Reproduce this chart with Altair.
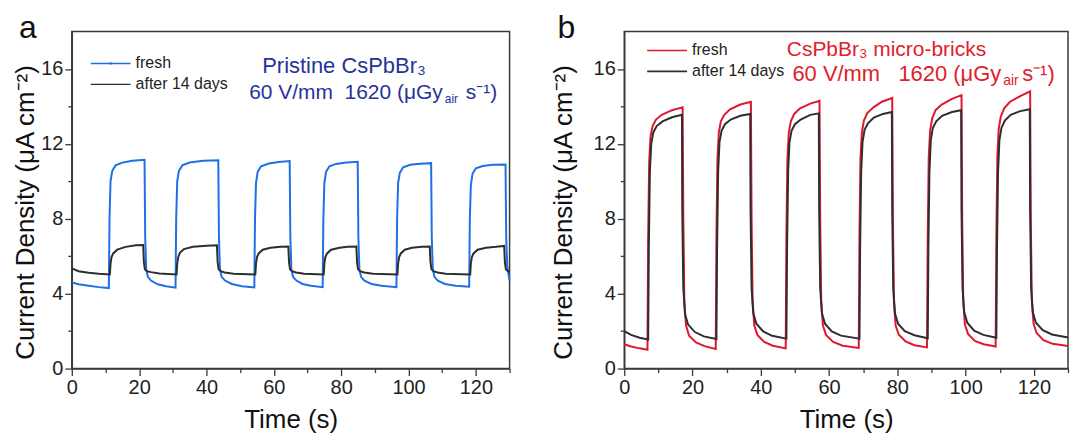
import altair as alt
import pandas as pd

# ---------------- data ----------------
A_FRESH_T = [0, 2, 5, 8, 11.0,
             11.2, 11.5, 12.0, 13, 15, 18, 21.6,
             21.8, 22.1, 22.6, 23.5, 25.5, 28, 30.8,
             31.0, 31.3, 31.8, 32.8, 35, 39, 43.5,
             43.7, 44.0, 44.5, 45.5, 47.5, 50.5, 54.2,
             54.4, 54.7, 55.2, 56.2, 58.5, 61.5, 64.7,
             64.9, 65.2, 65.7, 66.7, 68.5, 71, 74.5,
             74.7, 75.0, 75.5, 76.5, 78.5, 81.5, 84.9,
             85.1, 85.4, 85.9, 86.9, 89, 92, 96.4,
             96.6, 96.9, 97.4, 98.4, 100.5, 103.5, 106.7,
             106.9, 107.2, 107.7, 108.7, 110.8, 114, 118.0,
             118.2, 118.5, 119.0, 120.0, 122, 125, 128.8,
             129.0, 129.3, 129.7, 130]
A_FRESH_J = [4.6, 4.5, 4.42, 4.35, 4.3,
             8.0, 10.0, 10.55, 10.85, 11.0, 11.1, 11.15,
             7.0, 5.3, 4.9, 4.7, 4.5, 4.4, 4.32,
             8.0, 10.0, 10.55, 10.85, 11.0, 11.1, 11.13,
             7.0, 5.3, 4.9, 4.7, 4.52, 4.4, 4.33,
             8.0, 9.9, 10.5, 10.8, 10.95, 11.03, 11.08,
             7.0, 5.3, 4.9, 4.7, 4.52, 4.42, 4.35,
             8.0, 9.9, 10.5, 10.8, 10.93, 11.0, 11.04,
             7.0, 5.3, 4.9, 4.7, 4.52, 4.42, 4.35,
             8.0, 9.9, 10.45, 10.75, 10.88, 10.94, 10.97,
             7.0, 5.3, 4.9, 4.7, 4.52, 4.42, 4.37,
             8.0, 9.8, 10.4, 10.7, 10.82, 10.88, 10.9,
             7.0, 5.5, 5.0, 4.7]

A_AGED_T = [0, 2, 5, 8, 11.3,
            11.5, 11.8, 12.3, 13.5, 16, 19, 21.2,
            21.4, 21.7, 22.3, 23.5, 26, 31.1,
            31.3, 31.6, 32.1, 33.3, 36, 40, 43.1,
            43.3, 43.6, 44.2, 45.4, 48, 54.5,
            54.7, 55.0, 55.5, 56.7, 59, 62, 64.3,
            64.5, 64.8, 65.4, 66.6, 69, 74.8,
            75.0, 75.3, 75.8, 77, 79.5, 82, 84.5,
            84.7, 85.0, 85.6, 86.8, 89.5, 96.7,
            96.9, 97.2, 97.7, 98.9, 101, 104, 106.3,
            106.5, 106.8, 107.4, 108.6, 111, 118.3,
            118.5, 118.8, 119.3, 120.5, 123, 126, 128.4,
            128.6, 128.9, 129.5, 130]
A_AGED_J = [5.35, 5.2, 5.12, 5.07, 5.03,
            5.6, 5.95, 6.15, 6.35, 6.5, 6.58, 6.6,
            5.7, 5.3, 5.2, 5.15, 5.08, 5.03,
            5.6, 5.95, 6.18, 6.38, 6.5, 6.56, 6.58,
            5.7, 5.3, 5.2, 5.13, 5.07, 5.02,
            5.6, 5.95, 6.15, 6.35, 6.45, 6.5, 6.52,
            5.7, 5.3, 5.2, 5.13, 5.07, 5.02,
            5.6, 5.95, 6.15, 6.35, 6.45, 6.5, 6.52,
            5.7, 5.3, 5.2, 5.13, 5.07, 5.02,
            5.6, 5.95, 6.15, 6.35, 6.45, 6.5, 6.52,
            5.7, 5.3, 5.2, 5.13, 5.07, 5.02,
            5.6, 5.95, 6.15, 6.35, 6.45, 6.5, 6.55,
            5.7, 5.3, 5.2, 5.15]

B_FRESH_T = [0, 2, 4.5, 6.8,
             7.0, 7.3, 7.7, 8.3, 9.3, 11, 14, 17.1,
             17.3, 17.6, 18.1, 19, 21, 23.5, 26.8,
             27.0, 27.3, 27.7, 28.3, 29.3, 31, 34, 37.1,
             37.3, 37.6, 38.1, 39, 41, 43.5, 47.3,
             47.5, 47.8, 48.2, 48.8, 49.8, 51.5, 54.5, 57.2,
             57.4, 57.7, 58.2, 59.1, 61.2, 64, 68.7,
             68.9, 69.2, 69.6, 70.2, 71.2, 73, 75.5, 78.5,
             78.7, 79.0, 79.5, 80.4, 82.4, 85, 88.7,
             88.9, 89.2, 89.6, 90.2, 91.2, 93, 96, 98.8,
             99.0, 99.3, 99.8, 100.7, 102.7, 105.3, 108.8,
             109.0, 109.3, 109.7, 110.3, 111.3, 113, 116, 118.9,
             119.1, 119.4, 119.9, 120.8, 122.8, 125.5, 130]
B_FRESH_J = [1.3, 1.18, 1.08, 1.0,
             7.0, 11.0, 12.4, 12.95, 13.3, 13.55, 13.8, 13.95,
             8.0, 3.6, 2.3, 1.75, 1.4, 1.2, 1.05,
             7.0, 11.2, 12.6, 13.2, 13.55, 13.85, 14.1, 14.25,
             8.0, 3.6, 2.3, 1.8, 1.42, 1.22, 1.08,
             7.0, 11.2, 12.6, 13.2, 13.6, 13.9, 14.15, 14.3,
             8.0, 3.6, 2.3, 1.8, 1.42, 1.22, 1.1,
             7.0, 11.2, 12.6, 13.25, 13.65, 13.95, 14.25, 14.45,
             8.0, 3.6, 2.3, 1.82, 1.45, 1.25, 1.13,
             7.0, 11.3, 12.7, 13.35, 13.8, 14.1, 14.4, 14.6,
             8.0, 3.6, 2.35, 1.85, 1.48, 1.3, 1.18,
             7.0, 11.3, 12.8, 13.45, 13.9, 14.25, 14.55, 14.8,
             8.0, 3.6, 2.4, 1.9, 1.52, 1.32, 1.2]

B_AGED_T = [0, 2, 4.5, 7.0,
            7.2, 7.5, 7.9, 8.5, 9.5, 11.2, 14, 16.9,
            17.0, 17.3, 17.8, 18.7, 20.7, 23.3, 27.0,
            27.2, 27.5, 27.9, 28.5, 29.5, 31.2, 34, 36.9,
            37.0, 37.3, 37.8, 38.7, 40.7, 43.3, 47.5,
            47.7, 48.0, 48.4, 49.0, 50.0, 51.7, 54.5, 57.0,
            57.1, 57.4, 57.9, 58.8, 60.8, 63.5, 68.9,
            69.1, 69.4, 69.8, 70.4, 71.4, 73.1, 75.8, 78.4,
            78.5, 78.8, 79.3, 80.2, 82.2, 85, 88.9,
            89.1, 89.4, 89.8, 90.4, 91.4, 93.1, 96, 98.7,
            98.8, 99.1, 99.6, 100.5, 102.5, 105.2, 109.0,
            109.2, 109.5, 109.9, 110.5, 111.5, 113.2, 116, 118.8,
            118.9, 119.2, 119.7, 120.6, 122.6, 125.3, 130]
B_AGED_J = [2.0, 1.8, 1.65, 1.55,
            6.5, 10.5, 12.0, 12.6, 12.95, 13.2, 13.42, 13.55,
            8.5, 4.3, 2.9, 2.35, 1.95, 1.72, 1.58,
            6.5, 10.5, 12.1, 12.7, 13.05, 13.3, 13.5, 13.6,
            8.5, 4.3, 2.95, 2.4, 1.98, 1.75, 1.6,
            6.5, 10.5, 12.1, 12.7, 13.05, 13.3, 13.55, 13.63,
            8.5, 4.3, 2.95, 2.4, 1.98, 1.76, 1.6,
            6.5, 10.5, 12.1, 12.75, 13.1, 13.4, 13.6, 13.7,
            8.5, 4.3, 2.95, 2.4, 2.0, 1.78, 1.62,
            6.5, 10.5, 12.2, 12.85, 13.2, 13.5, 13.7, 13.8,
            8.5, 4.3, 3.0, 2.45, 2.02, 1.8, 1.65,
            6.5, 10.5, 12.2, 12.85, 13.25, 13.55, 13.75, 13.85,
            8.5, 4.3, 3.0, 2.45, 2.05, 1.82, 1.66]

SERIES = ["fresh", "after 14 days"]
X_TICKS = [0, 10, 20, 30, 40, 50, 60, 70, 80, 90, 100, 110, 120, 130]
Y_TICKS = [0, 2, 4, 6, 8, 10, 12, 14, 16]

# ---------------- styles ----------------
FONT = "Liberation Sans"
BLUE = "#1f6fe6"
RED = "#e0182f"
DARK = "#2e2e2e"
NAVY = "#26339a"
TXTRED = "#e1202b"
AX = "#3a3a3a"
NB = "\u00a0"

W_A, W_B, H = 439, 445, 338


def frame(series_t, series_j):
    rows = []
    for name, ts, js in zip(SERIES, series_t, series_j):
        for t, j in zip(ts, js):
            rows.append({"t": t, "j": j, "series": name})
    df = pd.DataFrame(rows)
    df["idx"] = range(len(df))
    return df


def label(text, x, y, size, color, align="left", baseline="alphabetic"):
    return alt.Chart(pd.DataFrame({"s": [text]})).mark_text(
        font=FONT, fontSize=size, color=color, align=align, baseline=baseline
    ).encode(x=alt.value(x), y=alt.value(y), text="s:N")


def hrule(x1, x2, y, color, width=1.6):
    return alt.Chart(pd.DataFrame({"k": [0]})).mark_rule(
        color=color, strokeWidth=width
    ).encode(x=alt.value(x1), x2=alt.value(x2), y=alt.value(y))


def panel(df, colors, width, ytitle_x):
    xaxis = alt.Axis(
        values=X_TICKS,
        labelExpr="datum.value % 20 === 0 ? datum.label : ''",
        tickSize={"condition": {"test": "datum.value % 20 === 0", "value": 7}, "value": 4},
        title="Time (s)", titleFontSize=26, titleFont=FONT, titleFontWeight="normal",
        titleBaseline="alphabetic", titleY=59, titleColor="#111",
        labelFontSize=20, labelFont=FONT, labelColor="#222", labelPadding=2,
        domainColor=AX, domainWidth=1.5, tickColor=AX, tickWidth=1.3, grid=False,
        labelFlush=False,
    )
    yaxis = alt.Axis(
        values=Y_TICKS,
        labelExpr="datum.value % 4 === 0 ? datum.label : ''",
        tickSize={"condition": {"test": "datum.value % 4 === 0", "value": 7}, "value": 4},
        title="Current Density (μA cm⁻²)", titleFontSize=26, titleFont=FONT,
        titleFontWeight="normal", titleAngle=-90, titleBaseline="middle",
        titleAlign="center", titleX=ytitle_x, titleY=181, titleColor="#111",
        labelFontSize=20, labelFont=FONT, labelColor="#222", labelPadding=2,
        domainColor=AX, domainWidth=1.5, tickColor=AX, tickWidth=1.3, grid=False,
        labelFlush=False,
    )
    return alt.Chart(df).mark_line(strokeWidth=2, interpolate="linear").encode(
        x=alt.X("t:Q", scale=alt.Scale(domain=[0, 130], nice=False, zero=False), axis=xaxis),
        y=alt.Y("j:Q", scale=alt.Scale(domain=[0, 18], nice=False), axis=yaxis),
        color=alt.Color("series:N", scale=alt.Scale(domain=SERIES, range=colors), legend=None),
        order=alt.Order("idx:Q"),
    ).properties(width=width, height=H)


df_a = frame([A_FRESH_T, A_AGED_T], [A_FRESH_J, A_AGED_J])
df_b = frame([B_FRESH_T, B_AGED_T], [B_FRESH_J, B_AGED_J])

anchor = alt.Chart(pd.DataFrame({"k": [0]})).mark_rule(
    strokeOpacity=0, strokeWidth=0
).encode(x=alt.value(-71), x2=alt.value(-71), y=alt.value(-30), y2=alt.value(-29))

chart_a = alt.layer(
    panel(df_a, [BLUE, DARK], W_A, -46),
    anchor,
    hrule(19, 59, 32, BLUE, 1.4),
    alt.Chart(pd.DataFrame({"k": [0]})).mark_point(
        shape="circle", size=8, filled=True, color=BLUE
    ).encode(x=alt.value(39), y=alt.value(32)),
    hrule(19, 59, 53, DARK, 1.4),
    label("fresh", 64, 32, 16, "#222", baseline="middle"),
    label("after 14 days", 64, 53, 16, "#222", baseline="middle"),
    label("Pristine CsPbBr₃", 273, 42, 22, NAVY, align="center"),
    label("60 V/mm" + NB + " 1620 (μGy", 372, 68, 21, NAVY, align="right"),
    label("air", 374, 72, 12, NAVY),
    label("s⁻¹)", 395, 68, 21, NAVY),
    label("a", -44, 6, 32, "#111", align="center"),
)

chart_b = alt.layer(
    panel(df_b, [RED, DARK], W_B, -61),
    hrule(23, 63, 19, RED, 1.6),
    hrule(23, 63, 40, DARK, 1.6),
    label("fresh", 68, 19, 16, "#222", baseline="middle"),
    label("after 14 days", 68, 40, 16, "#222", baseline="middle"),
    label("CsPbBr₃ micro-bricks", 163, 25, 21, TXTRED),
    label("60 V/mm" + NB + NB + " 1620 (μGy", 378, 50, 22, TXTRED, align="right"),
    label("air", 380, 54, 14, TXTRED),
    label("s⁻¹)", 399, 50, 22, TXTRED),
    label("b", -58, 7, 32, "#111", align="center"),
)

chart = alt.hconcat(chart_a, chart_b, spacing=115, bounds="flush").resolve_scale(
    color="independent"
).properties(
    padding={"left": 0, "top": 0, "right": 0, "bottom": 0},
    background="white",
).configure_view(stroke=AX, strokeWidth=1.5)

chart.save("out.html", embed_options={"renderer": "svg", "actions": False})
